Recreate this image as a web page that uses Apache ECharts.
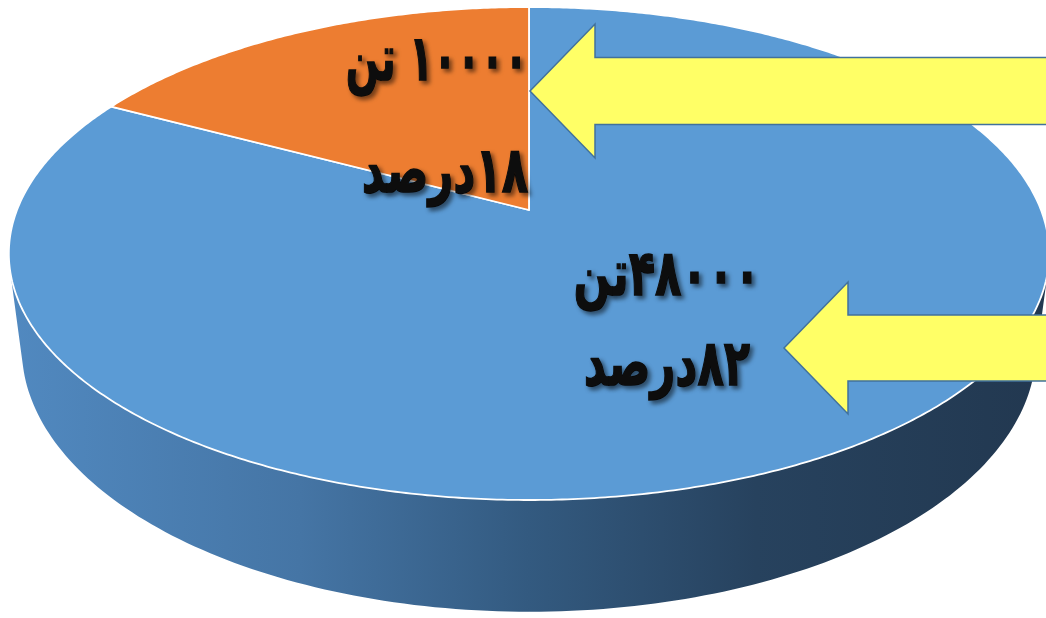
<!DOCTYPE html>
<html>
<head>
<meta charset="utf-8">
<style>
  html, body { margin: 0; padding: 0; background: #ffffff; }
  #chart { width: 1046px; height: 618px; }
</style>
<script src="https://cdn.jsdelivr.net/npm/echarts@6/dist/echarts.min.js"></script>
</head>
<body>
<div id="chart"></div>
<script>
// ---- data ----
const categories = ['سهم بزرگ', 'سهم کوچک'];
const tonnage = [48000, 10000];          // tonnes per slice
const percentShown = [82, 18];           // percentages written on the slices
const unitTon = 'تن';
const unitPercent = 'درصد';
const sliceColors = ['#5b9bd5', '#ed7d31'];

// ---- tilted-disc projection (perspective view of a flat pie) ----
const CX = 529, CY = 210;     // screen position of the pie centre
const TOP_Y = 7, FRONT_Y = 500, HALF_W = 512;
// perspective factor fitted to the far and near rim
const persp = (function () {
  // (e + CY)/(1+h) = TOP_Y ; (CY - e)/(1-h) = FRONT_Y
  const h = (TOP_Y + FRONT_Y - 2 * CY) / (FRONT_Y - TOP_Y);
  const e = TOP_Y * (1 + h) - CY;
  return { h: h, e: e };
})();
const DEPTH = 92;             // thickness of the disc
const TAPER = 0.975;          // bottom rim converges slightly

function project(theta, lower) {
  const u = Math.sin(theta), v = Math.cos(theta);
  const w = 1 + persp.h * v;
  let x = CX + HALF_W * u / w;
  let y = (persp.e * v + CY) / w;
  if (lower) {
    x = CX + (x - CX) * TAPER;
    y += DEPTH / w;
  }
  return [x, y];
}

const total = tonnage.reduce((s, v) => s + v, 0);
function sliceAngles(idx) {
  let acc = 0;
  for (let i = 0; i < idx; i++) acc += tonnage[i];
  return [acc / total * Math.PI * 2, (acc + tonnage[idx]) / total * Math.PI * 2];
}

function fa(n) {
  return String(n).replace(/[0-9]/g, d => '۰۱۲۳۴۵۶۷۸۹'[+d]);
}

const sideGradients = [
  { type: 'linear', x: 10, y: 0, x2: 1046, y2: 0, global: true,
    colorStops: [
      { offset: 0, color: '#5189c0' },
      { offset: 0.28, color: '#4575a5' },
      { offset: 0.5, color: '#335a80' },
      { offset: 0.72, color: '#27425e' },
      { offset: 1, color: '#223850' }
    ] },
  { type: 'linear', x: 10, y: 0, x2: 1046, y2: 0, global: true,
    colorStops: [
      { offset: 0, color: '#c9682a' },
      { offset: 1, color: '#7a3d15' }
    ] }
];

function sidePath(idx) {
  const [a0, a1] = sliceAngles(idx);
  const steps = Math.max(8, Math.ceil((a1 - a0) / (Math.PI / 180)));
  let d = '';
  for (let i = 0; i < steps; i++) {
    const t0 = a0 + (a1 - a0) * i / steps;
    const t1 = a0 + (a1 - a0) * (i + 1) / steps;
    let q = [project(t0, false), project(t1, false), project(t1, true), project(t0, true)];
    let area = 0;
    for (let k = 0; k < 4; k++) {
      const p = q[k], n = q[(k + 1) % 4];
      area += p[0] * n[1] - n[0] * p[1];
    }
    if (area < 0) q = q.reverse();
    d += 'M' + q.map(p => p[0].toFixed(2) + ' ' + p[1].toFixed(2)).join('L') + 'Z';
  }
  return d;
}

function topPath(idx) {
  const [a0, a1] = sliceAngles(idx);
  const steps = Math.max(8, Math.ceil((a1 - a0) / (Math.PI / 360)));
  let d = 'M' + CX + ' ' + CY;
  for (let i = 0; i <= steps; i++) {
    const p = project(a0 + (a1 - a0) * i / steps, false);
    d += 'L' + p[0].toFixed(2) + ' ' + p[1].toFixed(2);
  }
  return d + 'Z';
}

const seriesData = tonnage.map((v, i) => ({ name: categories[i], value: v }));

const labelFont = 'bold 52px "DejaVu Sans"';
function labelText(str, x, y, sx) {
  return {
    type: 'text', z: 20, x: x, y: y, scaleX: sx, scaleY: 1.22,
    style: {
      text: '\u202B' + str + '\u202C',
      font: labelFont, fill: '#0d0d0d', stroke: '#0d0d0d', lineWidth: 1.2,
      align: 'center', verticalAlign: 'middle',
      shadowColor: 'rgba(0,0,0,0.5)', shadowBlur: 4, shadowOffsetX: 3, shadowOffsetY: 3,
      textShadowColor: 'rgba(0,0,0,0.5)', textShadowBlur: 4, textShadowOffsetX: 3, textShadowOffsetY: 3
    }
  };
}
function arrow(tipX, tipY, backX, headHalf, shaftHalf) {
  return {
    type: 'polygon', z: 15,
    shape: { points: [
      [tipX, tipY], [backX, tipY - headHalf], [backX, tipY - shaftHalf], [1070, tipY - shaftHalf],
      [1070, tipY + shaftHalf], [backX, tipY + shaftHalf], [backX, tipY + headHalf]
    ] },
    style: { fill: '#ffff66', stroke: '#41719c', lineWidth: 1.5, lineJoin: 'miter' }
  };
}

const chart = echarts.init(document.getElementById('chart'), null, { renderer: 'canvas' });
chart.setOption({
  backgroundColor: '#ffffff',
  animation: false,
  series: [
    {
      type: 'custom', name: 'side', coordinateSystem: 'none', z: 1,
      data: seriesData,
      renderItem: function (params) {
        return { type: 'path', shape: { pathData: sidePath(params.dataIndex) },
                 style: { fill: sideGradients[params.dataIndex] } };
      }
    },
    {
      type: 'custom', name: 'top', coordinateSystem: 'none', z: 2,
      data: seriesData,
      renderItem: function (params) {
        return { type: 'path', shape: { pathData: topPath(params.dataIndex) },
                 style: { fill: sliceColors[params.dataIndex], stroke: '#ffffff', lineWidth: 1.8, lineJoin: 'round' } };
      }
    }
  ],
  graphic: { elements: [
    arrow(530, 91, 595, 67, 33.5),
    arrow(784, 348, 848, 66, 33),
    labelText(fa(tonnage[1]) + ' ' + unitTon, 437, 64, 0.75),
    labelText(fa(percentShown[1]) + unitPercent, 445, 176, 0.83),
    labelText(fa(tonnage[0]) + unitTon, 667, 279, 0.83),
    labelText(fa(percentShown[0]) + unitPercent, 667, 369, 0.83)
  ] }
});
</script>
</body>
</html>
